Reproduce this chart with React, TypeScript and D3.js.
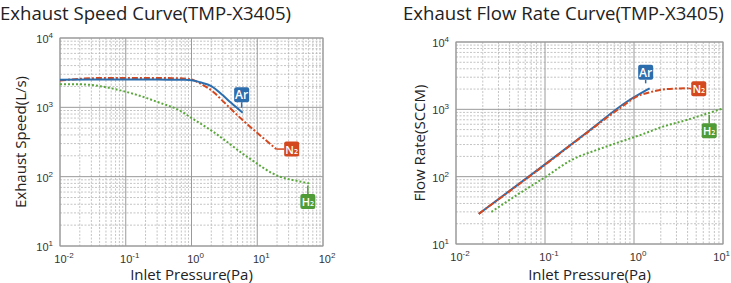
import React, { useEffect } from "react";
import * as d3 from "d3";

// ---------- data ----------
// Left chart: Exhaust speed (L/s) vs inlet pressure (Pa)
const speedArP = [0.01, 0.03, 0.1, 0.3, 0.8, 1.0, 1.35, 2, 3, 4, 6];
const speedArS = [2500, 2520, 2520, 2510, 2490, 2460, 2300, 2030, 1490, 1160, 836];
const speedN2P = [0.01, 0.02, 0.05, 0.2, 0.6, 0.95, 1.3, 2.13, 3, 5.83, 11.7, 19.4];
const speedN2S = [2430, 2580, 2650, 2650, 2630, 2550, 2250, 1680, 1230, 671, 377, 250];
const speedH2P = [0.01, 0.02, 0.03, 0.05, 0.1, 0.2, 0.3, 0.67, 1, 2.13, 7, 22, 40, 62];
const speedH2S = [2150, 2150, 2100, 1950, 1680, 1380, 1200, 894, 703, 445, 194, 100, 87, 80];

// Right chart: Flow rate (SCCM) vs inlet pressure (Pa)
const flowArP = [0.018, 0.1, 0.3, 0.83, 1.2, 1.5];
const flowArF = [28, 152, 460, 1297, 1740, 2050];
const flowN2P = [0.018, 0.1, 0.3, 0.7, 1.07, 1.5, 1.96, 3, 4.07];
const flowN2F = [28, 150, 455, 1050, 1540, 1790, 1940, 2040, 2060];
const flowH2P = [0.025, 0.05, 0.1, 0.2, 0.4, 0.7, 1.27, 2, 3.9, 10];
const flowH2F = [30, 55, 98, 178, 255, 330, 430, 540, 695, 1035];

const gasNames = ["Ar", "N", "H"];
const titles = ["Exhaust Speed Curve(TMP-X3405)", "Exhaust Flow Rate Curve(TMP-X3405)"];
const yTitles = ["Exhaust Speed(L/s)", "Flow Rate(SCCM)"];
const xTitle = "Inlet Pressure(Pa)";
const leftXExp = [-2, -1, 0, 1, 2];
const rightXExp = [-2, -1, 0, 1];
const yExp = [1, 2, 3, 4];

const BLUE = "#2c6dae";
const RED = "#d3481f";
const GREEN = "#4f9b37";
const GREEN_LINE = "#5aa83c";

type Series = {
  name: string;
  sub: boolean;
  xs: number[];
  ys: number[];
  color: string;
  lineColor: string;
  dash: string;
  width: number;
  anchorX: number | null;
  dx: number;
  dy: number;
  tail: "down" | "up" | "left";
};

type PanelCfg = {
  title: string;
  titleX: number;
  yTitle: string;
  yTitleX: number;
  box: [number, number, number, number];
  xDomain: [number, number];
  xExp: number[];
  series: Series[];
};

const FONT = "'Open Sans', 'Noto Sans', sans-serif";
const TICKFONT = "'Liberation Sans', Arial, sans-serif";

function interpLog(xs: number[], ys: number[], x: number) {
  const lx = Math.log10(x);
  for (let i = 0; i < xs.length - 1; i++) {
    const a = Math.log10(xs[i]);
    const b = Math.log10(xs[i + 1]);
    if (lx >= a && lx <= b) {
      const t = (lx - a) / (b - a);
      return Math.pow(10, Math.log10(ys[i]) + t * (Math.log10(ys[i + 1]) - Math.log10(ys[i])));
    }
  }
  return ys[ys.length - 1];
}

function Panel({ cfg }: { cfg: PanelCfg }) {
  const [x0, y0, x1, y1] = cfg.box;
  const x = d3.scaleLog().domain(cfg.xDomain).range([x0, x1]);
  const y = d3.scaleLog().domain([10, 10000]).range([y1, y0]);

  const majorX = cfg.xExp.map((e) => Math.pow(10, e));
  const minorX: number[] = [];
  for (let i = 0; i < cfg.xExp.length - 1; i++)
    for (let k = 2; k <= 9; k++) minorX.push(k * Math.pow(10, cfg.xExp[i]));
  const majorY = yExp.map((e) => Math.pow(10, e));
  const minorY: number[] = [];
  for (let i = 0; i < yExp.length - 1; i++)
    for (let k = 2; k <= 9; k++) minorY.push(k * Math.pow(10, yExp[i]));

  const line = d3
    .line<[number, number]>()
    .x((d) => x(d[0]))
    .y((d) => y(d[1]))
    .curve(d3.curveMonotoneX);

  return (
    <g>
      <text x={cfg.titleX} y={20} fontFamily={FONT} fontSize={18.6} fill="#222">
        {cfg.title}
      </text>
      {minorX.map((v, i) => (
        <line key={"mx" + i} x1={x(v)} x2={x(v)} y1={y0} y2={y1} stroke="#b5b5b5" strokeWidth={0.8} strokeDasharray="2,1.5" />
      ))}
      {minorY.map((v, i) => (
        <line key={"my" + i} x1={x0} x2={x1} y1={y(v)} y2={y(v)} stroke="#b5b5b5" strokeWidth={0.8} strokeDasharray="2,1.5" />
      ))}
      {majorX.map((v, i) => (
        <line key={"Mx" + i} x1={x(v)} x2={x(v)} y1={y0} y2={y1} stroke="#9a9a9a" strokeWidth={1} />
      ))}
      {majorY.map((v, i) => (
        <line key={"My" + i} x1={x0} x2={x1} y1={y(v)} y2={y(v)} stroke="#9a9a9a" strokeWidth={1} />
      ))}
      <rect x={x0} y={y0} width={x1 - x0} height={y1 - y0} fill="none" stroke="#9a9a9a" strokeWidth={1} />
      {cfg.xExp.map((e, i) => {
        const px = x(Math.pow(10, e)) + 4;
        const last = px + 9 > 730;
        return (
          <text
            key={"tx" + i}
            x={last ? 730 : px}
            y={y1 + 17}
            textAnchor={last ? "end" : "middle"}
            fontFamily={TICKFONT}
            fontSize={11}
            fill="#333"
          >
            10<tspan dy={-5} fontSize={8}>{String(e)}</tspan>
          </text>
        );
      })}
      {yExp.map((e, i) => (
        <text key={"ty" + i} x={x0 - 7} y={y(Math.pow(10, e)) + 5} textAnchor="end" fontFamily={TICKFONT} fontSize={11} fill="#333">
          10<tspan dy={-5} fontSize={8}>{String(e)}</tspan>
        </text>
      ))}
      <text x={(x0 + x1) / 2} y={280} textAnchor="middle" fontFamily={FONT} fontSize={15} fill="#222">
        {xTitle}
      </text>
      <text
        transform={`translate(${cfg.yTitleX},${(y0 + y1) / 2}) rotate(-90)`}
        textAnchor="middle"
        fontFamily={FONT}
        fontSize={15}
        fill="#222"
      >
        {cfg.yTitle}
      </text>
      {cfg.series.map((s, i) => (
        <path
          key={"s" + i}
          d={line(s.xs.map((v, j) => [v, s.ys[j]] as [number, number])) || ""}
          fill="none"
          stroke={s.lineColor}
          strokeWidth={s.width}
          strokeDasharray={s.dash}
        />
      ))}
      {cfg.series.map((s, i) => {
        const ax = s.anchorX === null ? s.xs[s.xs.length - 1] : s.anchorX;
        const ay = s.anchorX === null ? s.ys[s.ys.length - 1] : interpLog(s.xs, s.ys, s.anchorX);
        const px = x(ax);
        const py = y(ay);
        const cx = px + s.dx;
        const cy = py + s.dy;
        const bw = 15;
        const bh = 15;
        let tail: [number, number, number, number];
        if (s.tail === "down") tail = [cx, cy + bh / 2, cx, py - 5];
        else if (s.tail === "up") tail = [cx, cy - bh / 2, cx, py + 2];
        else tail = [cx - bw / 2, cy, px, py];
        return (
          <g key={"l" + i}>
            <line x1={tail[0]} y1={tail[1]} x2={tail[2]} y2={tail[3]} stroke={s.color} strokeWidth={1.5} />
            <rect x={cx - bw / 2} y={cy - bh / 2} width={bw} height={bh} rx={2} fill={s.color} />
            <text x={cx} y={cy + 4.5} textAnchor="middle" fontFamily={FONT} fontSize={12} fontWeight={600} fill="#fff">
              {s.sub ? (
                <>
                  <tspan fontSize={11}>{s.name}</tspan>
                  <tspan fontSize={7}>2</tspan>
                </>
              ) : (
                s.name
              )}
            </text>
          </g>
        );
      })}
    </g>
  );
}

export default function App() {
  useEffect(() => {
    document.body.style.margin = "0";
  }, []);

  const left: PanelCfg = {
    title: titles[0],
    titleX: 0,
    yTitle: yTitles[0],
    yTitleX: 26,
    box: [60, 38, 323, 246],
    xDomain: [0.01, 100],
    xExp: leftXExp,
    series: [
      { name: gasNames[2], sub: true, xs: speedH2P, ys: speedH2S, color: GREEN, lineColor: GREEN_LINE, dash: "2,2", width: 2, anchorX: null, dx: -1.5, dy: 18, tail: "up" },
      { name: gasNames[1], sub: true, xs: speedN2P, ys: speedN2S, color: RED, lineColor: RED, dash: "6,2,2,2", width: 2, anchorX: null, dx: 15.5, dy: 0, tail: "left" },
      { name: gasNames[0], sub: false, xs: speedArP, ys: speedArS, color: BLUE, lineColor: BLUE, dash: "", width: 2, anchorX: null, dx: -1, dy: -18, tail: "down" },
    ],
  };
  const right: PanelCfg = {
    title: titles[1],
    titleX: 403,
    yTitle: yTitles[1],
    yTitleX: 425,
    box: [456, 42, 723, 244],
    xDomain: [0.01, 10],
    xExp: rightXExp,
    series: [
      { name: gasNames[2], sub: true, xs: flowH2P, ys: flowH2F, color: GREEN, lineColor: GREEN_LINE, dash: "2,2", width: 2, anchorX: 7, dx: 0, dy: 18, tail: "up" },
      { name: gasNames[0], sub: false, xs: flowArP, ys: flowArF, color: BLUE, lineColor: BLUE, dash: "", width: 2, anchorX: null, dx: -4, dy: -16, tail: "down" },
      { name: gasNames[1], sub: true, xs: flowN2P, ys: flowN2F, color: RED, lineColor: RED, dash: "6,2,2,2", width: 2, anchorX: null, dx: 10.5, dy: 0.5, tail: "left" },
    ],
  };

  return (
    <svg width={731} height={283} style={{ position: "absolute", left: 0, top: 0, background: "#fff" }}>
      <Panel cfg={left} />
      <Panel cfg={right} />
    </svg>
  );
}
